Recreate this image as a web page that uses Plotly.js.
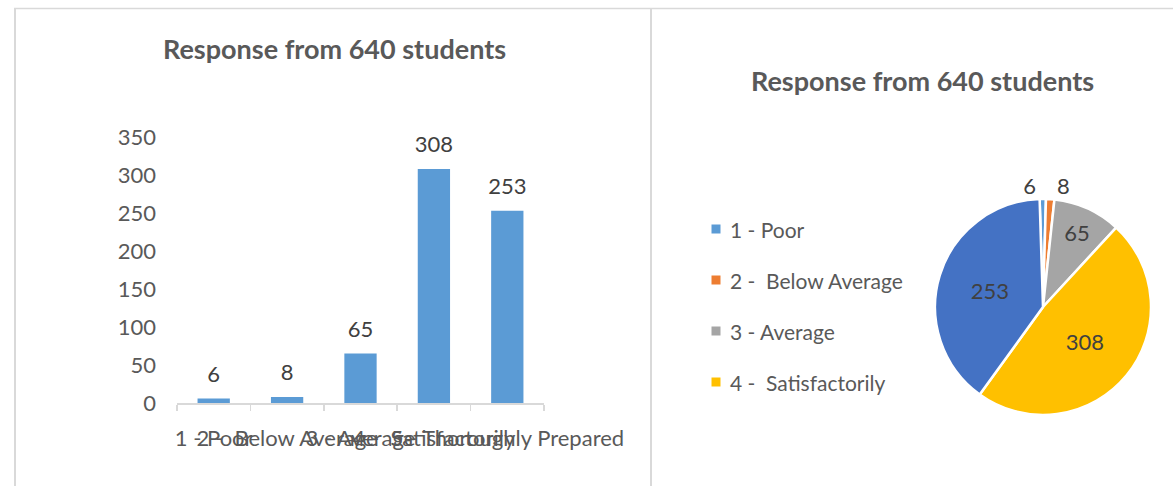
<!DOCTYPE html>
<html>
<head>
<meta charset="utf-8">
<script src="https://cdn.plot.ly/plotly-3.0.1.min.js"></script>
<style>
  html, body { margin: 0; padding: 0; background: #ffffff; }
  #chart { width: 1173px; height: 486px; }
</style>
</head>
<body>
<div id="chart"></div>
<script>
// ---- data ----
const categories = ['1 - Poor', '2 -  Below Average', '3 - Average', '4 -  Satisfactorily', '5 - Thoroughly Prepared'];
const responses = [6, 8, 65, 308, 253];
const chartTitle = 'Response from 640 students';
const yTicks = [0, 50, 100, 150, 200, 250, 300, 350];
const sliceColors = ['#5B9BD5', '#ED7D31', '#A5A5A5', '#FFC000', '#4472C4'];
const legendVisibleCount = 4;

// ---- layout helpers ----
const W = 1173, H = 486;
const px = x => x / W;
const py = y => 1 - y / H;
const FONT = 'Lato, "Open Sans", sans-serif';
const TXT = '#595959';
const BORDER = '#D9D9D9';

const barTrace = {
  type: 'bar',
  x: categories,
  y: responses,
  xaxis: 'x', yaxis: 'y',
  marker: { color: '#5B9BD5' },
  hoverinfo: 'x+y',
  showlegend: false
};

// value labels above the bars
const barLabels = {
  type: 'scatter',
  mode: 'markers+text',
  x: categories,
  y: responses,
  xaxis: 'x', yaxis: 'y',
  text: responses.map(String),
  textposition: 'top center',
  marker: { size: 16, opacity: 0, color: '#5B9BD5' },
  cliponaxis: false,
  textfont: { family: FONT, size: 22, color: '#404040' },
  hoverinfo: 'skip',
  showlegend: false
};

const pieTrace = {
  type: 'pie',
  labels: categories,
  values: responses,
  sort: false,
  direction: 'clockwise',
  rotation: -1.8,
  marker: { colors: sliceColors, line: { color: '#ffffff', width: 2.5 } },
  textinfo: 'value',
  textposition: ['outside', 'outside', 'inside', 'inside', 'inside'],
  insidetextorientation: 'horizontal',
  textfont: { family: FONT, size: 22, color: '#404040' },
  domain: { x: [px(935), px(1151)], y: [py(415), py(199)] },
  showlegend: false
};

const shapes = [
  { type: 'line', xref: 'paper', yref: 'paper', x0: px(14), x1: 1, y0: py(8.5), y1: py(8.5), line: { color: BORDER, width: 1.5 } },
  { type: 'line', xref: 'paper', yref: 'paper', x0: px(15), x1: px(15), y0: py(8.5), y1: 0, line: { color: BORDER, width: 2 } },
  { type: 'line', xref: 'paper', yref: 'paper', x0: px(651), x1: px(651), y0: py(8.5), y1: 0, line: { color: BORDER, width: 2 } }
];

const annotations = [
  { xref: 'paper', yref: 'paper', x: px(334), y: py(48), text: chartTitle, showarrow: false,
    xanchor: 'center', yanchor: 'middle', font: { family: FONT, size: 27, color: TXT, weight: 700 } },
  { xref: 'paper', yref: 'paper', x: px(922), y: py(80), text: chartTitle, showarrow: false,
    xanchor: 'center', yanchor: 'middle', font: { family: FONT, size: 27, color: TXT, weight: 700 } }
];

// legend (only the entries visible in the reference)
for (let i = 0; i < legendVisibleCount; i++) {
  const rowY = 229 + i * 51;
  shapes.push({
    type: 'rect', xref: 'paper', yref: 'paper',
    xsizemode: 'pixel', ysizemode: 'pixel',
    xanchor: px(716), yanchor: py(rowY),
    x0: -4.5, x1: 4.5, y0: -4.5, y1: 4.5,
    fillcolor: sliceColors[i], line: { width: 0 }
  });
  annotations.push({
    xref: 'paper', yref: 'paper', x: px(728), y: py(rowY),
    text: categories[i].replace('  ', ' \u00a0'), showarrow: false,
    xanchor: 'left', yanchor: 'middle',
    font: { family: FONT, size: 21, color: TXT }
  });
}

const layout = {
  width: W, height: H,
  margin: { l: 0, r: 0, t: 0, b: 0 },
  paper_bgcolor: '#ffffff',
  plot_bgcolor: 'rgba(0,0,0,0)',
  showlegend: false,
  bargap: 0.56,
  xaxis: {
    domain: [px(177), px(544)],
    type: 'category',
    tickangle: 0,
    tickson: 'boundaries',
    ticks: 'outside', ticklen: 6, tickcolor: BORDER, tickwidth: 1.5,
    showline: true, linecolor: BORDER, linewidth: 1.5,
    showgrid: false, zeroline: false,
    automargin: false,
    ticklabelstandoff: 15,
    tickfont: { family: FONT, size: 22, color: TXT }
  },
  yaxis: {
    domain: [py(403), py(137)],
    range: [0, 350],
    tickvals: yTicks,
    showgrid: false, zeroline: false, showline: false,
    ticks: '',
    automargin: false,
    ticklabelstandoff: 20,
    tickfont: { family: FONT, size: 22, color: TXT }
  },
  shapes: shapes,
  annotations: annotations
};

Plotly.newPlot('chart', [barTrace, barLabels, pieTrace], layout, { displayModeBar: false, staticPlot: true });
</script>
</body>
</html>
